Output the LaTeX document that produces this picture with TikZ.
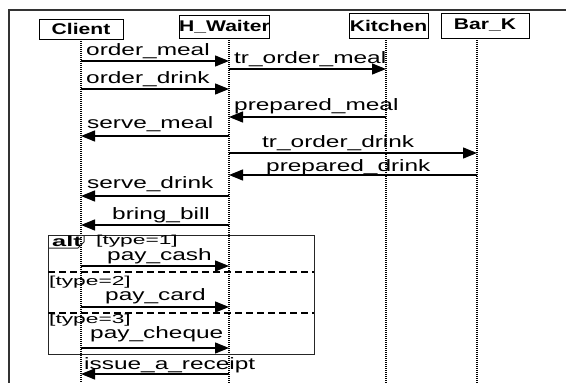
\documentclass[tikz,border=0pt]{standalone}
\usepackage{fontspec}
\setmainfont[FakeStretch=1.48]{Liberation Sans}
\newfontfamily\hdfont[FakeStretch=1.36]{Liberation Sans}
\newfontfamily\smfont[FakeStretch=1.75]{Liberation Sans}
\usetikzlibrary{arrows.meta}
\begin{document}
\begin{tikzpicture}[x=1pt,y=-1pt,
  head/.style={draw=black, line width=0.9pt, inner sep=0pt, font=\hdfont\bfseries\fontsize{15.5}{18}\selectfont},
  lbl/.style={inner sep=0pt, anchor=base west, font=\fontsize{16.5}{18}\selectfont},
  guard/.style={inner sep=0pt, anchor=base west, font=\smfont\fontsize{13}{14}\selectfont},
  life/.style={line width=1.5pt, dash pattern=on 1pt off 1pt},
  msg/.style={line width=1.3pt, -{Triangle[length=14pt,width=11pt]}},
  sepline/.style={line width=1.3pt, dash pattern=on 7pt off 4pt},
  outer/.style={line width=2pt, black!80},
  frame/.style={line width=1pt, black!85},
]
\useasboundingbox (0,0) rectangle (566,383);
\draw[outer] (9,383) -- (9,10) -- (566,10);

% heads
\node[head, minimum width=84pt, minimum height=20pt] (cl) at (81,29) {Client};
\node[head, minimum width=87pt, minimum height=23pt] (hw) at (224.5,26.5) {H\_Waiter};
\node[head, minimum width=79pt, minimum height=25pt] (ki) at (388.5,25.5) {Kitchen};
\node[head, minimum width=88pt, minimum height=25pt] (bk) at (485,25.5) {Bar\_K};

% lifelines
\coordinate (lc) at (81,39);
\coordinate (lw) at (229,38);
\coordinate (lk) at (386,38);
\coordinate (lb) at (477,38);
\coordinate (bot) at (0,383);
\draw[life] (lc) -- (lc |- bot);
\draw[life] (lw) -- (lw |- bot);
\draw[life] (lk) -- (lk |- bot);
\draw[life] (lb) -- (lb |- bot);

% rows
\coordinate (r1) at (0,61);
\coordinate (r2) at (0,69);
\coordinate (r3) at (0,89);
\coordinate (r4) at (0,117);
\coordinate (r5) at (0,136);
\coordinate (r6) at (0,153);
\coordinate (r7) at (0,175);
\coordinate (r8) at (0,196);
\coordinate (r9) at (0,225);
\coordinate (r10) at (0,266);
\coordinate (r11) at (0,307);
\coordinate (r12) at (0,348);
\coordinate (r13) at (0,374);

% alt frame
\draw[frame] (48,235) rectangle (314,354);
\draw[frame] (48,248) -- (78,248) -- (84,242) -- (84,235);
\node[inner sep=0pt, anchor=base, font=\smfont\bfseries\fontsize{14.5}{15}\selectfont] (alt) at (67,246.5) {alt};
\draw[sepline] (48,272) -- (314,272);
\draw[sepline] (48,313) -- (314,313);
\node[guard] (g1) at (96,244) {[type=1]};
\node[guard] (g2) at (49,285) {[type=2]};
\node[guard] (g3) at (49,323) {[type=3]};

% messages
\draw[msg] (lc |- r1) -- (lw |- r1);
\draw[msg] (lw |- r2) -- (lk |- r2);
\draw[msg] (lc |- r3) -- (lw |- r3);
\draw[msg] (lk |- r4) -- (lw |- r4);
\draw[msg] (lw |- r5) -- (lc |- r5);
\draw[msg] (lw |- r6) -- (lb |- r6);
\draw[msg] (lb |- r7) -- (lw |- r7);
\draw[msg] (lw |- r8) -- (lc |- r8);
\draw[msg] (lw |- r9) -- (lc |- r9);
\draw[msg] (lc |- r10) -- (lw |- r10);
\draw[msg] (lc |- r11) -- (lw |- r11);
\draw[msg] (lc |- r12) -- (lw |- r12);
\draw[msg] (lw |- r13) -- (lc |- r13);

% labels
\node[lbl] (t1) at (86,55) {order\_meal};
\node[lbl] (t2) at (234,63) {tr\_order\_meal};
\node[lbl] (t3) at (86,83) {order\_drink};
\node[lbl] (t4) at (234,110) {prepared\_meal};
\node[lbl] (t5) at (87,128) {serve\_meal};
\node[lbl] (t6) at (262,147) {tr\_order\_drink};
\node[lbl] (t7) at (266,171.5) {prepared\_drink};
\node[lbl] (t8) at (87,188) {serve\_drink};
\node[lbl] (t9) at (112,219) {bring\_bill};
\node[lbl] (t10) at (107,260) {pay\_cash};
\node[lbl] (t11) at (105,300) {pay\_card};
\node[lbl] (t12) at (90,338) {pay\_cheque};
\node[lbl] (t13) at (84,369) {issue\_a\_receipt};
\end{tikzpicture}
\end{document}
